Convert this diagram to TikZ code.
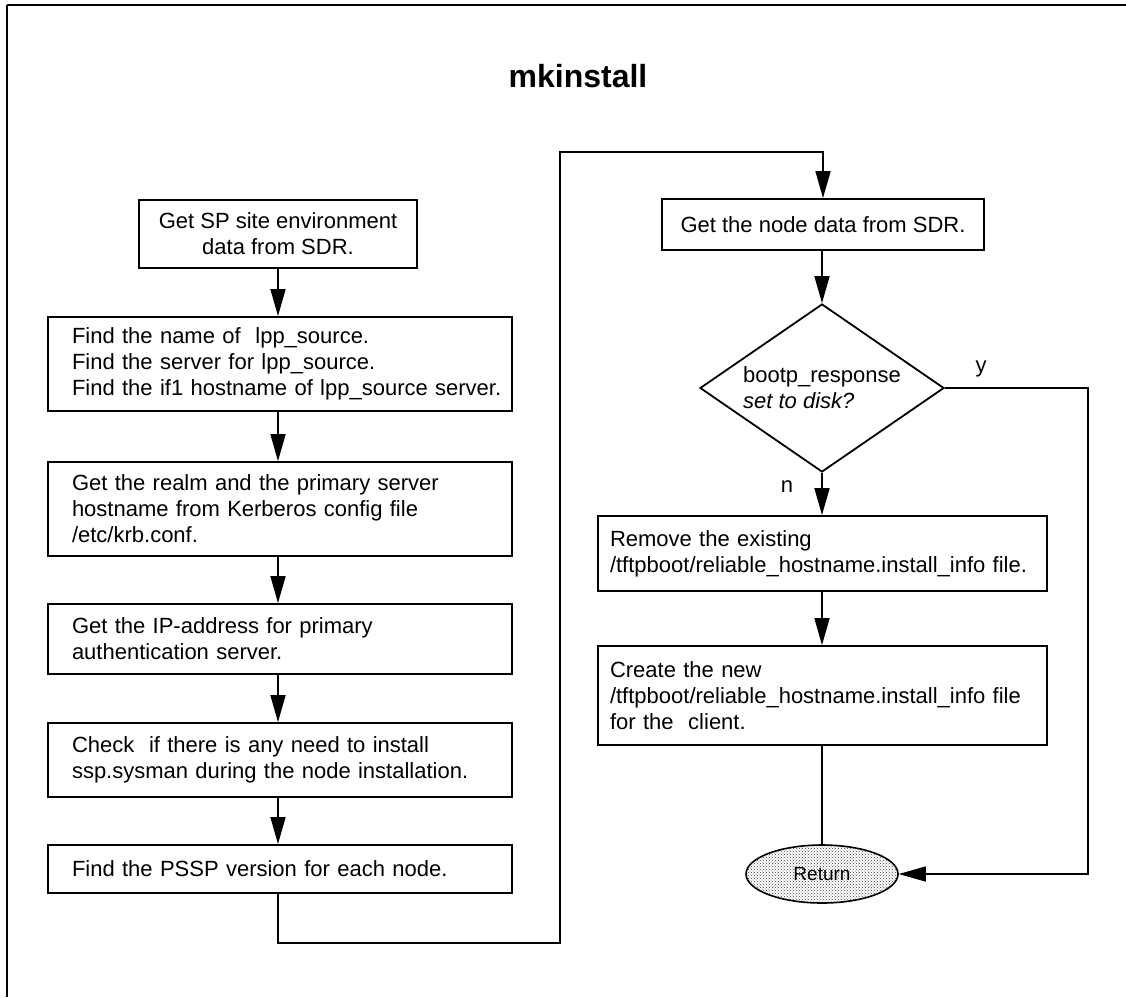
\documentclass[tikz,border=0pt]{standalone}
\usepackage{fontspec}
\setmainfont{Liberation Sans}
\usetikzlibrary{arrows.meta,shapes.geometric,patterns}
% keep each line of a box on one line
\newcommand\oneline[1]{\mbox{#1}}
\begin{document}
\begin{tikzpicture}[x=1pt,y=-1pt,
  every node/.style={font=\fontsize{22}{26}\selectfont},
  leftbox/.style={draw, line width=1.8pt, align=left, text width=416pt,
    inner xsep=24pt, inner ysep=0pt, minimum height=#1},
  rightbox/.style={draw, line width=1.8pt, align=left, text width=425pt,
    inner xsep=12pt, inner ysep=0pt, minimum height=#1},
  plainbox/.style={draw, line width=1.8pt, align=center, inner sep=0pt},
  flow/.style={line width=1.6pt, -{Triangle[length=27pt,width=15pt]}},
  link/.style={line width=1.3pt}
]
\useasboundingbox (0,0) rectangle (1126,997);

% page frame (top and left rules)
\draw[line width=2.5pt] (7,5) -- (1126,5);
\draw[line width=1.5pt] (7,5) -- (7,997);

% title
\node[font=\fontsize{32}{36}\selectfont\bfseries, anchor=base] (title) at (578,87) {mkinstall};

% left column
\node[plainbox, minimum width=278pt, minimum height=68pt] (b1) at (278,234)
  {Get SP site environment\\data from SDR.};
\node[leftbox=94pt] (b2) at (280,364)
  {\oneline{Find the name of\ \ lpp\_source.}\\
   \oneline{Find the server for lpp\_source.}\\
   \oneline{Find the if1 hostname of lpp\_source server.}};
\node[leftbox=94pt] (b3) at (280,509)
  {\oneline{Get the realm and the primary server}\\
   \oneline{hostname from Kerberos config file}\\
   \oneline{/etc/krb.conf.}};
\node[leftbox=70pt] (b4) at (280,639)
  {\oneline{Get the IP-address for primary}\\
   \oneline{authentication server.}};
\node[leftbox=74pt] (b5) at (280,760)
  {\oneline{Check\ \ if there is any need to install}\\
   \oneline{ssp.sysman during the node installation.}};
\node[leftbox=48pt] (b6) at (280,869)
  {\oneline{Find the PSSP version for each node.}};

% right column
\node[plainbox, minimum width=322pt, minimum height=51pt] (r1) at (823,224.5)
  {Get the node data from SDR.};
\node[diamond, draw, line width=1.8pt, aspect=1.5, inner sep=0pt,
  minimum width=244pt, minimum height=168pt, align=left] (d) at (822,388)
  {bootp\_response\\{\itshape set to disk?}};
\node[rightbox=75pt] (r2) at (822.5,553.5)
  {\oneline{Remove the existing}\\
   \oneline{/tftpboot/reliable\_hostname.install\_info file.}};
\node[rightbox=99pt] (r3) at (822.5,695.5)
  {\oneline{Create the new}\\
   \oneline{/tftpboot/reliable\_hostname.install\_info file}\\
   \oneline{for the\ \ client.}};
\node[ellipse, draw, line width=1.6pt, pattern=crosshatch dots,
  pattern color=black!75, minimum width=152pt, minimum height=58pt,
  inner sep=0pt, font=\fontsize{19}{22}\selectfont] (ret) at (822,874) {Return};

% branch labels
\node (ylab) at (981,369) {y};
\node (nlab) at (787,487) {n};

% routing points
\coordinate (c1) at (560,943);
\coordinate (c2) at (560,152);
\coordinate (c3) at (1088,874);

% left column flow
\draw[flow] (b1.south) -- (b1.south |- b2.north);
\draw[flow] (b1.south |- b2.south) -- (b1.south |- b3.north);
\draw[flow] (b1.south |- b3.south) -- (b1.south |- b4.north);
\draw[flow] (b1.south |- b4.south) -- (b1.south |- b5.north);
\draw[flow] (b1.south |- b5.south) -- (b1.south |- b6.north);

% over to the right column
\draw[flow] (b1.south |- b6.south) |- (c1) -- (c2) -| (r1.north);

% right column flow
\draw[flow] (r1.south -| d.north) -- (d.north);
\draw[flow] (d.south) -- (d.south |- r2.north);
\draw[flow] (d.south |- r2.south) -- (d.south |- r3.north);
\draw[link] (d.south |- r3.south) -- (ret.north);
\draw[flow] (d.east) -| (c3) -- (ret.east);

\end{tikzpicture}
\end{document}
